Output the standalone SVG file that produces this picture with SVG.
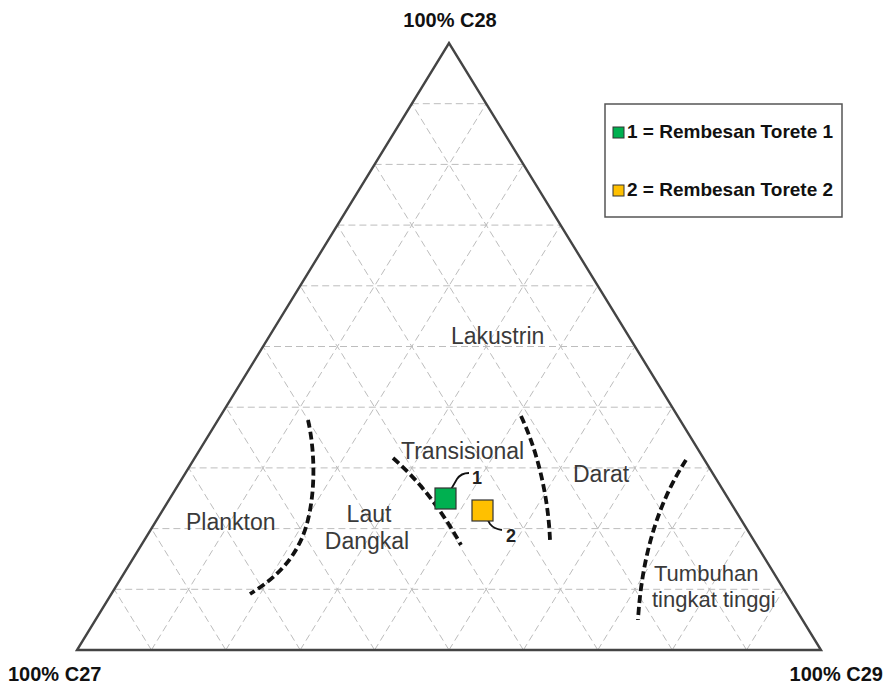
<svg xmlns="http://www.w3.org/2000/svg" width="890" height="690" viewBox="0 0 890 690">
<style>
.grid line{stroke:#bdbdbd;stroke-width:1;stroke-dasharray:7 4;fill:none}
.axis{font-family:"Liberation Sans",Arial,sans-serif;font-weight:bold;font-size:20px;fill:#111}
.zone{font-family:"Liberation Sans",Arial,sans-serif;font-size:23px;fill:#3a3a3a}
.zone-s{font-family:"Liberation Sans",Arial,sans-serif;font-size:22px;fill:#3a3a3a}
.bound{fill:none;stroke:#111;stroke-width:3.8;stroke-dasharray:8 4}
.leg{font-family:"Liberation Sans",Arial,sans-serif;font-weight:bold;font-size:19px;fill:#111}
.num{font-family:"Liberation Sans",Arial,sans-serif;font-weight:bold;font-size:18px;fill:#222}
.leader{fill:none;stroke:#111;stroke-width:1.8}
</style>
<rect width="890" height="690" fill="#fff"/>
<g class="grid">
<line x1="114.2" y1="589.3" x2="783.8" y2="589.3"/>
<line x1="151.4" y1="528.6" x2="746.6" y2="528.6"/>
<line x1="188.6" y1="467.9" x2="709.4" y2="467.9"/>
<line x1="225.8" y1="407.2" x2="672.2" y2="407.2"/>
<line x1="263" y1="346.5" x2="635" y2="346.5"/>
<line x1="300.2" y1="285.8" x2="597.8" y2="285.8"/>
<line x1="337.4" y1="225.1" x2="560.6" y2="225.1"/>
<line x1="374.6" y1="164.4" x2="523.4" y2="164.4"/>
<line x1="411.8" y1="103.7" x2="486.2" y2="103.7"/>
<line x1="151.4" y1="650" x2="486.2" y2="103.7"/>
<line x1="225.8" y1="650" x2="523.4" y2="164.4"/>
<line x1="300.2" y1="650" x2="560.6" y2="225.1"/>
<line x1="374.6" y1="650" x2="597.8" y2="285.8"/>
<line x1="449" y1="650" x2="635" y2="346.5"/>
<line x1="523.4" y1="650" x2="672.2" y2="407.2"/>
<line x1="597.8" y1="650" x2="709.4" y2="467.9"/>
<line x1="672.2" y1="650" x2="746.6" y2="528.6"/>
<line x1="746.6" y1="650" x2="783.8" y2="589.3"/>
<line x1="151.4" y1="650" x2="114.2" y2="589.3"/>
<line x1="225.8" y1="650" x2="151.4" y2="528.6"/>
<line x1="300.2" y1="650" x2="188.6" y2="467.9"/>
<line x1="374.6" y1="650" x2="225.8" y2="407.2"/>
<line x1="449" y1="650" x2="263" y2="346.5"/>
<line x1="523.4" y1="650" x2="300.2" y2="285.8"/>
<line x1="597.8" y1="650" x2="337.4" y2="225.1"/>
<line x1="672.2" y1="650" x2="374.6" y2="164.4"/>
<line x1="746.6" y1="650" x2="411.8" y2="103.7"/>
</g>
<g id="triangle">
<polygon points="77,650 821,650 449,43" fill="none" stroke="#444" stroke-width="2.4" stroke-linejoin="miter"/>
</g>
<g id="label-c28"><text class="axis" x="450" y="27" text-anchor="middle">100% C28</text></g>
<g id="label-c27"><text class="axis" x="8" y="681">100% C27</text></g>
<g id="label-c29"><text class="axis" x="883" y="681" text-anchor="end">100% C29</text></g>
<g id="boundaries">
<path class="bound" d="M308,420 C316,455 316,505 302,538 C290,565 272,580 250,594"/>
<path class="bound" d="M393,458 Q432,492 461,545"/>
<path class="bound" d="M521,416 C536,448 548,492 550,540"/>
<path class="bound" d="M686,460 C660,500 642,552 638,620"/>
</g>
<g id="zone-lakustrin"><text class="zone" x="451" y="344">Lakustrin</text></g>
<g id="zone-transisional"><text class="zone" x="401" y="459">Transisional</text></g>
<g id="zone-darat"><text class="zone" x="573" y="482">Darat</text></g>
<g id="zone-plankton"><text class="zone" x="186" y="530">Plankton</text></g>
<g id="zone-laut-dangkal"><text class="zone" x="369" y="522" text-anchor="middle">Laut</text><text class="zone" x="367" y="549" text-anchor="middle">Dangkal</text></g>
<g id="zone-tumbuhan"><text class="zone-s" x="654" y="581">Tumbuhan</text><text class="zone-s" x="652" y="607">tingkat tinggi</text></g>
<g id="connectors">
<path class="leader" d="M446,498 L457,479 Q461,473 469,473"/>
<path class="leader" d="M483,511 L490,524 Q494,529 502,530"/>
</g>
<g id="sample-1">
<rect x="435" y="488" width="21" height="21" fill="#00B050" stroke="#333" stroke-width="1.2"/>
<text class="num" x="472" y="484">1</text>
</g>
<g id="sample-2">
<rect x="472" y="500" width="21" height="21" fill="#FFC000" stroke="#333" stroke-width="1.2"/>
<text class="num" x="506" y="542">2</text>
</g>
<g id="legend">
<rect x="605" y="104" width="237" height="113" fill="#fff" stroke="#555" stroke-width="1.5"/>
<rect x="613" y="127" width="11" height="11" fill="#00B050" stroke="#333" stroke-width="1"/>
<text class="leg" x="627" y="138">1 = Rembesan Torete 1</text>
<rect x="613" y="185" width="11" height="11" fill="#FFC000" stroke="#333" stroke-width="1"/>
<text class="leg" x="627" y="196">2 = Rembesan Torete 2</text>
</g>
</svg>
